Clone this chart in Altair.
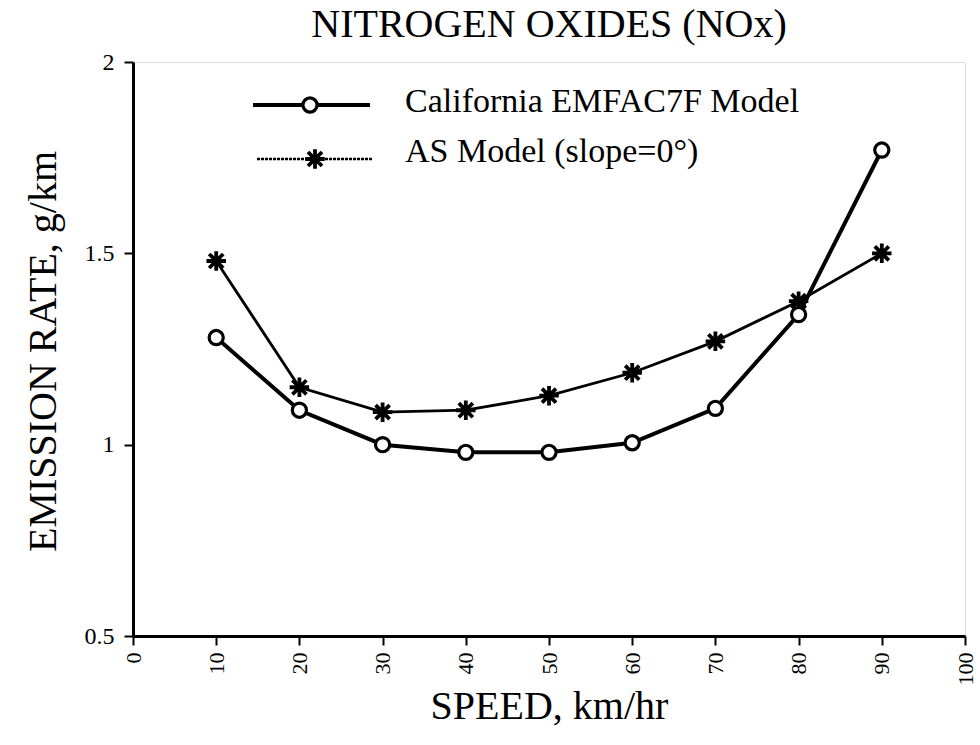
import altair as alt
import pandas as pd

# ---- data ----
speeds = [10, 20, 30, 40, 50, 60, 70, 80, 90]
emfac7f = [1.28, 1.09, 1.00, 0.98, 0.98, 1.005, 1.095, 1.34, 1.77]
as_model = [1.48, 1.15, 1.085, 1.09, 1.128, 1.188, 1.27, 1.375, 1.50]
series_names = ["California EMFAC7F Model", "AS Model (slope=0°)"]
x_ticks = [0, 10, 20, 30, 40, 50, 60, 70, 80, 90, 100]
y_ticks = [0.5, 1, 1.5, 2]
title_text = "NITROGEN OXIDES (NOx)"
x_title = "SPEED, km/hr"
y_title = "EMISSION RATE, g/km"

FONT = "Liberation Serif"
W, H = 832, 574
STAR = "M-1,0L1,0M0,-1L0,1M-0.72,-0.72L0.72,0.72M-0.72,0.72L0.72,-0.72"

df_c = pd.DataFrame({"speed": speeds, "rate": emfac7f, "series": series_names[0]})
df_a = pd.DataFrame({"speed": speeds, "rate": as_model, "series": series_names[1]})

x_enc = alt.X("speed:Q", scale=alt.Scale(domain=[0, 100], nice=False, zero=False),
              axis=alt.Axis(values=x_ticks, format="d", labelAngle=270, title=x_title,
                            ticks=True, tickSize=9, tickWidth=2, domainWidth=3,
                            domainColor="black", tickColor="black", labelFont=FONT,
                            labelFontSize=22, labelColor="black", labelPadding=7,
                            grid=False, titleFont=FONT, titleFontSize=40,
                            titleFontWeight="normal", titleColor="black",
                            titleX=W / 2, titleY=82, titleBaseline="alphabetic",
                            titleAlign="center"))
y_enc = alt.Y("rate:Q", scale=alt.Scale(domain=[0.5, 2], nice=False, zero=False),
              axis=alt.Axis(values=y_ticks, format="~g", title=y_title,
                            ticks=True, tickSize=9, tickWidth=2, domainWidth=3,
                            domainColor="black", tickColor="black", labelFont=FONT,
                            labelFontSize=24, labelColor="black", labelPadding=10,
                            grid=False, titleFont=FONT, titleFontSize=40,
                            titleFontWeight="normal", titleColor="black",
                            titleX=-78, titleY=H / 2 + 2, titleAngle=270,
                            titleBaseline="alphabetic", titleAlign="center"))

line_c = alt.Chart(df_c).mark_line(color="black", strokeWidth=4).encode(x=x_enc, y=y_enc)
line_a = alt.Chart(df_a).mark_line(color="black", strokeWidth=2.8).encode(x="speed:Q", y="rate:Q")
pts_a = alt.Chart(df_a).mark_point(shape=STAR, size=380, filled=False, stroke="black",
                                   strokeWidth=3.8, opacity=1).encode(x="speed:Q", y="rate:Q")
pts_c = alt.Chart(df_c).mark_point(shape="circle", size=200, filled=True, fill="white",
                                   stroke="black", strokeWidth=3.2, opacity=1).encode(
    x="speed:Q", y="rate:Q")

one = pd.DataFrame({"k": [0]})
title_mark = alt.Chart(one).mark_text(align="center", baseline="alphabetic", font=FONT,
                                      fontSize=40, color="black").encode(
    x=alt.value(W / 2), y=alt.value(-25), text=alt.value(title_text))
leg_line1 = alt.Chart(one).mark_rule(color="black", strokeWidth=4).encode(
    x=alt.value(120), x2=alt.value(237), y=alt.value(43))
leg_pt1 = alt.Chart(one).mark_point(shape="circle", size=200, filled=True, fill="white",
                                    stroke="black", strokeWidth=3.2, opacity=1).encode(
    x=alt.value(177), y=alt.value(43))
leg_txt1 = alt.Chart(one).mark_text(align="left", baseline="alphabetic", font=FONT,
                                    fontSize=34, color="black").encode(
    x=alt.value(272), y=alt.value(50), text=alt.value(series_names[0]))
leg_line2 = alt.Chart(one).mark_rule(color="black", strokeWidth=2.6, strokeDash=[3, 1]).encode(
    x=alt.value(124), x2=alt.value(240), y=alt.value(97))
leg_pt2 = alt.Chart(one).mark_point(shape=STAR, size=380, filled=False, stroke="black",
                                    strokeWidth=3.8, opacity=1).encode(
    x=alt.value(182), y=alt.value(97))
leg_txt2 = alt.Chart(one).mark_text(align="left", baseline="alphabetic", font=FONT,
                                    fontSize=34, color="black").encode(
    x=alt.value(272), y=alt.value(100), text=alt.value(series_names[1]))

chart = alt.layer(
    line_c, line_a, pts_a, pts_c, title_mark,
    leg_line1, leg_pt1, leg_txt1, leg_line2, leg_pt2, leg_txt2
).properties(
    width=W, height=H,
    autosize=alt.AutoSizeParams(type="none"),
    padding={"left": 133, "top": 62, "right": 15, "bottom": 109},
).configure_view(stroke="black", strokeWidth=3).configure(background="white")

chart.save("out.html", embed_options={"renderer": "svg", "actions": False})
